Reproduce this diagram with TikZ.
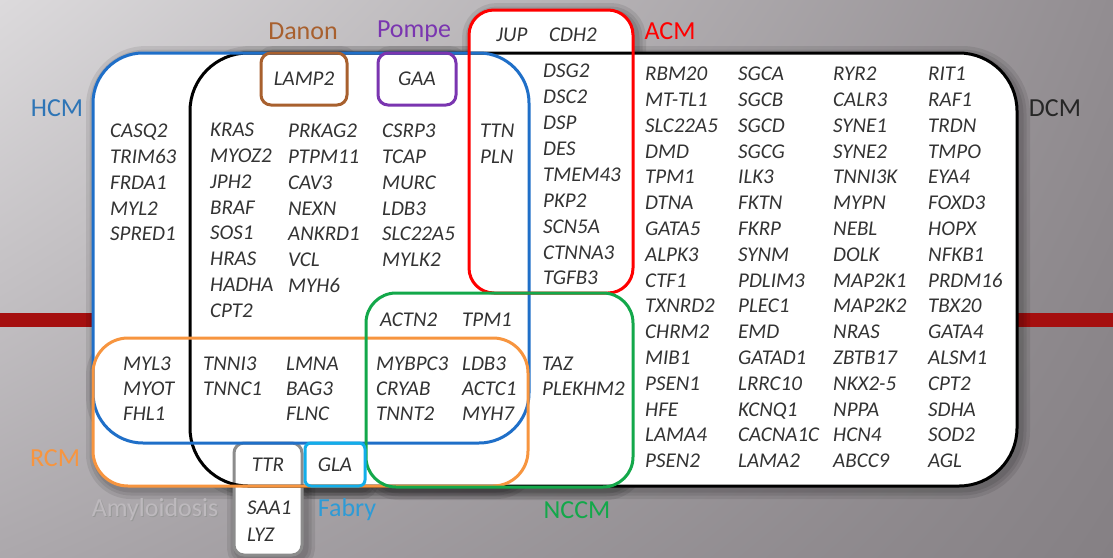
\documentclass[tikz,border=0pt]{standalone}
\usepackage{fontspec}
\setmainfont{Carlito}
\usetikzlibrary{shadings}
\definecolor{hcmblue}{HTML}{1F6FC8}
\definecolor{hcmtext}{HTML}{2E75B6}
\definecolor{acmred}{HTML}{FF0000}
\definecolor{ncgreen}{HTML}{13A84A}
\definecolor{rcmorange}{HTML}{F7953F}
\definecolor{danonbrown}{HTML}{A8602E}
\definecolor{pompepurple}{HTML}{7A35B0}
\definecolor{fabryblue}{HTML}{12AEEA}
\definecolor{fabrytext}{HTML}{2E9BD6}
\definecolor{amygray}{HTML}{8C8C8C}
\definecolor{amytext}{HTML}{BDB9BD}
\definecolor{genetext}{HTML}{333333}
\definecolor{barred}{HTML}{A50F0F}
\definecolor{bgul}{HTML}{DCDADC}
\definecolor{bgur}{HTML}{928D91}
\definecolor{bgll}{HTML}{ACA8AC}
\definecolor{bglr}{HTML}{858084}
\begin{document}
\begin{tikzpicture}[x=1pt,y=-1pt,
  gene/.style={font=\itshape\fontsize{21}{21}\selectfont, text=genetext, anchor=west, inner sep=0pt, text height=13.5pt, text depth=0pt},
  lbl/.style={font=\fontsize{26}{26}\selectfont, inner sep=0pt},
  outline/.style={line width=3pt}]
% background
\shade[upper left=bgul, upper right=bgur, lower left=bgll, lower right=bglr] (0,0) rectangle (1113,557);
\useasboundingbox (0,0) rectangle (1113,557);
\fill[barred] (0,313) rectangle (1113,327);
% shadows
\foreach \a/\b/\c/\d/\r in {190/53/1017/486/58, 93/53/529/443/50, 93/338/528/486/35, 469/10/633/293/25, 366/293/633/487/30, 234/443/302/555/10, 305/443/365/486/6, 261/53/347/105/10, 378/53/456/105/10}{
  \foreach \w in {20,13,7}{
    \draw[black, opacity=0.085, line width=\w pt, rounded corners=\r pt, shift={(3pt,-3pt)}] (\a,\b) rectangle (\c,\d);
  }
}
% fills
\foreach \a/\b/\c/\d/\r in {190/53/1017/486/58, 93/53/529/443/50, 93/338/528/486/35, 469/10/633/293/25, 366/293/633/487/30, 234/443/302/555/10, 305/443/365/486/6, 261/53/347/105/10, 378/53/456/105/10}{
  \fill[white, rounded corners=\r pt] (\a,\b) rectangle (\c,\d);
}
% outlines
\draw[outline, amygray, rounded corners=10pt] (234,443) rectangle (302,555);
\draw[outline, black, rounded corners=58pt] (190,53) rectangle (1017,486);
\draw[outline, hcmblue, rounded corners=50pt] (93,53) rectangle (529,443);
\draw[outline, rcmorange, rounded corners=35pt] (93,338) rectangle (528,486);
\draw[outline, acmred, rounded corners=25pt] (469,10) rectangle (633,293);
\draw[outline, ncgreen, rounded corners=30pt] (366,293) rectangle (633,487);
\draw[outline, fabryblue, rounded corners=6pt] (305,443) rectangle (365,486);
\draw[outline, danonbrown, rounded corners=10pt] (261,53) rectangle (347,105);
\draw[outline, pompepurple, rounded corners=10pt] (378,53) rectangle (456,105);
% labels
\node[lbl, text=hcmtext] (lhcm) at (57,108) {HCM};
\node[lbl, text=black!85] (ldcm) at (1055,108) {DCM};
\node[lbl, text=acmred] (lacm) at (670,31) {ACM};
\node[lbl, text=danonbrown] (ldanon) at (303,31) {Danon};
\node[lbl, text=pompepurple] (lpompe) at (414,31) {Pompe};
\node[lbl, text=rcmorange] (lrcm) at (55,458) {RCM};
\node[lbl, text=black!40] (lamys) at (156,511) {Amyloidosis};
\node[lbl, text=amytext] (lamy) at (155,510) {Amyloidosis};
\node[lbl, text=fabrytext] (lfabry) at (347,510) {Fabry};
\node[lbl, text=ncgreen] (lnccm) at (577,510) {NCCM};
% genes
\foreach \g [count=\i] in {CASQ2,TRIM63,FRDA1,MYL2,SPRED1}
  \node[gene] (ha\i) at (110,{131+(\i-1)*25.8}) {\g};
\foreach \g [count=\i] in {KRAS,MYOZ2,JPH2,BRAF,SOS1,HRAS,HADHA,CPT2}
  \node[gene] (hb\i) at (210,{130+(\i-1)*25.8}) {\g};
\foreach \g [count=\i] in {PRKAG2,PTPM11,CAV3,NEXN,ANKRD1,VCL,MYH6}
  \node[gene] (hc\i) at (288,{131+(\i-1)*25.8}) {\g};
\foreach \g [count=\i] in {CSRP3,TCAP,MURC,LDB3,SLC22A5,MYLK2}
  \node[gene] (hd\i) at (382,{131+(\i-1)*25.8}) {\g};
\foreach \g [count=\i] in {TTN,PLN}
  \node[gene] (he\i) at (480,{131+(\i-1)*25.8}) {\g};
\node[gene, anchor=center] (jup) at (512,35) {JUP};
\node[gene, anchor=center] (cdh2) at (573,35) {CDH2};
\node[gene, anchor=center] (lamp2) at (304,79) {LAMP2};
\node[gene, anchor=center] (gaa) at (417,79) {GAA};
\foreach \g [count=\i] in {DSG2,DSC2,DSP,DES,TMEM43,PKP2,SCN5A,CTNNA3,TGFB3}
  \node[gene] (ac\i) at (543,{71+(\i-1)*25.9}) {\g};
\foreach \g [count=\i] in {RBM20,MT-TL1,SLC22A5,DMD,TPM1,DTNA,GATA5,ALPK3,CTF1,TXNRD2,CHRM2,MIB1,PSEN1,HFE,LAMA4,PSEN2}
  \node[gene] (da\i) at (645,{74+(\i-1)*25.8}) {\g};
\foreach \g [count=\i] in {SGCA,SGCB,SGCD,SGCG,ILK3,FKTN,FKRP,SYNM,PDLIM3,PLEC1,EMD,GATAD1,LRRC10,KCNQ1,CACNA1C,LAMA2}
  \node[gene] (db\i) at (738,{74+(\i-1)*25.8}) {\g};
\foreach \g [count=\i] in {RYR2,CALR3,SYNE1,SYNE2,TNNI3K,MYPN,NEBL,DOLK,MAP2K1,MAP2K2,NRAS,ZBTB17,NKX2-5,NPPA,HCN4,ABCC9}
  \node[gene] (dc\i) at (833,{74+(\i-1)*25.8}) {\g};
\foreach \g [count=\i] in {RIT1,RAF1,TRDN,TMPO,EYA4,FOXD3,HOPX,NFKB1,PRDM16,TBX20,GATA4,ALSM1,CPT2,SDHA,SOD2,AGL}
  \node[gene] (dd\i) at (928,{74+(\i-1)*25.8}) {\g};
\node[gene] (actn2) at (380,320) {ACTN2};
\node[gene] (tpm1n) at (462,320) {TPM1};
\foreach \g [count=\i] in {MYBPC3,CRYAB,TNNT2}
  \node[gene] (na\i) at (376,{364+(\i-1)*25}) {\g};
\foreach \g [count=\i] in {LDB3,ACTC1,MYH7}
  \node[gene] (nb\i) at (462,{364+(\i-1)*25}) {\g};
\foreach \g [count=\i] in {TAZ,PLEKHM2}
  \node[gene] (nc\i) at (542,{364+(\i-1)*25}) {\g};
\foreach \g [count=\i] in {MYL3,MYOT,FHL1}
  \node[gene] (ra\i) at (123,{364+(\i-1)*25}) {\g};
\foreach \g [count=\i] in {TNNI3,TNNC1}
  \node[gene] (rb\i) at (203,{364+(\i-1)*25}) {\g};
\foreach \g [count=\i] in {LMNA,BAG3,FLNC}
  \node[gene] (rc\i) at (286,{364+(\i-1)*25}) {\g};
\node[gene, anchor=center] (ttr) at (268,465) {TTR};
\node[gene, anchor=center] (gla) at (335,465) {GLA};
\node[gene] (saa1) at (247,508) {SAA1};
\node[gene] (lyz) at (247,535) {LYZ};
\end{tikzpicture}
\end{document}
